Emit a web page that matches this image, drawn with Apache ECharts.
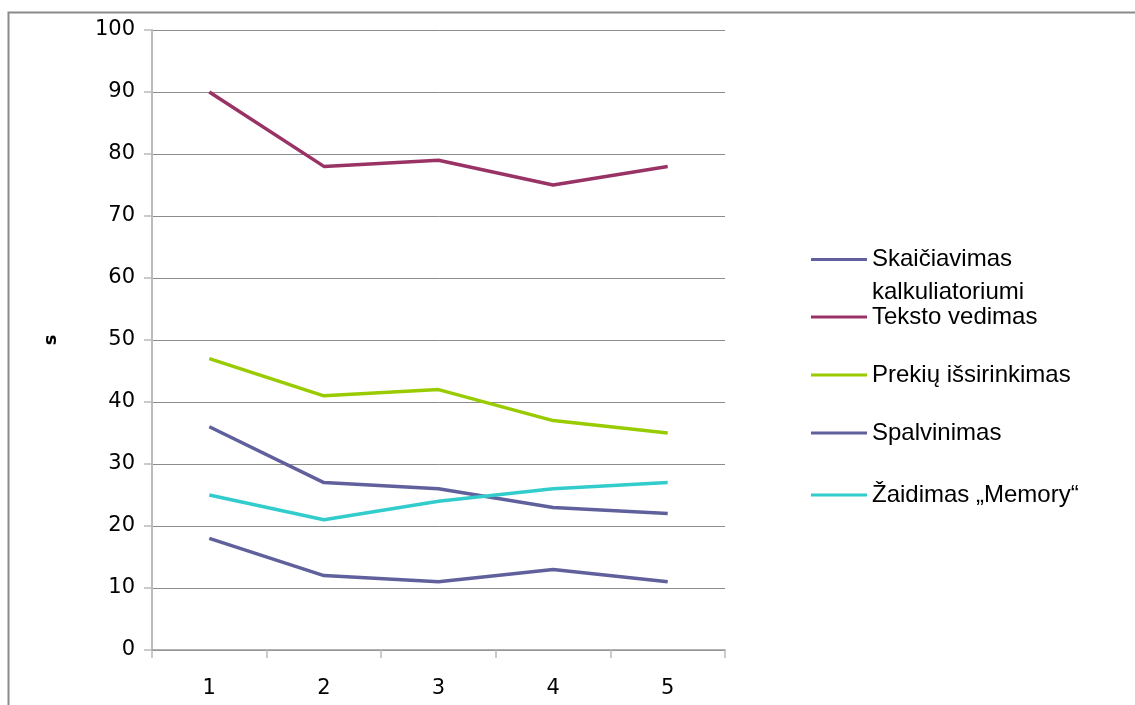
<!DOCTYPE html>
<html>
<head>
<meta charset="utf-8">
<script src="https://cdn.jsdelivr.net/npm/echarts@6/dist/echarts.min.js"></script>
<style>
  html, body { margin: 0; padding: 0; background: #fff; }
  #chart { width: 1135px; height: 705px; }
</style>
</head>
<body>
<div id="chart"></div>
<script>
// Trial numbers on the x axis
const categories = ['1', '2', '3', '4', '5'];

// Task completion times, seconds
const skaiciavimas = [18, 12, 11, 13, 11];
const tekstoVedimas = [90, 78, 79, 75, 78];
const prekiuIssirinkimas = [47, 41, 42, 37, 35];
const spalvinimas = [36, 27, 26, 23, 22];
const zaidimasMemory = [25, 21, 24, 26, 27];

const seriesNames = [
  'Skaičiavimas kalkuliatoriumi',
  'Teksto vedimas',
  'Prekių išsirinkimas',
  'Spalvinimas',
  'Žaidimas „Memory“'
];
const seriesData = [skaiciavimas, tekstoVedimas, prekiuIssirinkimas, spalvinimas, zaidimasMemory];
const colors = ['#60609c', '#993366', '#99cc00', '#60609c', '#33cccc'];

const AXIS_FONT = 'DejaVu Sans';
const LEGEND_FONT = 'Liberation Sans';

// one legend block per series so each entry sits at its own height
const legendTops = [210, 300, 358, 416, 478];
const legends = seriesNames.map((name, i) => ({
  data: [name],
  orient: 'vertical',
  left: 811,
  top: legendTops[i],
  padding: 0,
  itemWidth: 56,
  itemHeight: 3,
  itemGap: 0,
  selectedMode: false,
  icon: 'rect',
  // the first entry wraps onto a second line, with the swatch beside the first line
  formatter: n => n === seriesNames[0] ? '\nSkaičiavimas\nkalkuliatoriumi' : n,
  textStyle: { fontFamily: LEGEND_FONT, fontSize: 24, color: '#000', lineHeight: i === 0 ? 33 : 34 }
}));

const chart = echarts.init(document.getElementById('chart'), null, { renderer: 'canvas' });
chart.setOption({
  animation: false,
  backgroundColor: '#fff',
  graphic: [{
    type: 'polyline',
    shape: { points: [[8.5, 720], [8.5, 12.5], [1140, 12.5]] },
    style: { stroke: '#8a8a8a', lineWidth: 2, fill: null },
    silent: true
  }],
  grid: { left: 152, right: 410, top: 30, bottom: 55, containLabel: false },
  legend: legends,
  xAxis: {
    type: 'category',
    data: categories,
    boundaryGap: true,
    axisLine: { lineStyle: { color: '#999', width: 1.5 } },
    axisTick: { show: true, length: 8, lineStyle: { color: '#bbb', width: 1.5 } },
    axisLabel: { fontFamily: AXIS_FONT, fontSize: 21, color: '#000', margin: 28 }
  },
  yAxis: {
    type: 'value',
    min: 0,
    max: 100,
    interval: 10,
    name: 's',
    nameLocation: 'middle',
    nameGap: 92,
    nameRotate: 90,
    nameTextStyle: { fontFamily: AXIS_FONT, fontSize: 18, fontWeight: 'bold', color: '#000' },
    axisLine: { show: true, lineStyle: { color: '#bbb', width: 2 } },
    axisTick: { show: true, length: 8, lineStyle: { color: '#bbb', width: 1.5 } },
    axisLabel: { fontFamily: AXIS_FONT, fontSize: 21, color: '#000', margin: 17 },
    splitLine: { lineStyle: { color: '#8c8c8c', width: 1 } }
  },
  series: seriesNames.map((name, i) => ({
    name,
    type: 'line',
    data: seriesData[i],
    symbol: 'none',
    color: colors[i],
    lineStyle: { width: 3.5, color: colors[i] },
    z: 3
  }))
});
</script>
</body>
</html>
